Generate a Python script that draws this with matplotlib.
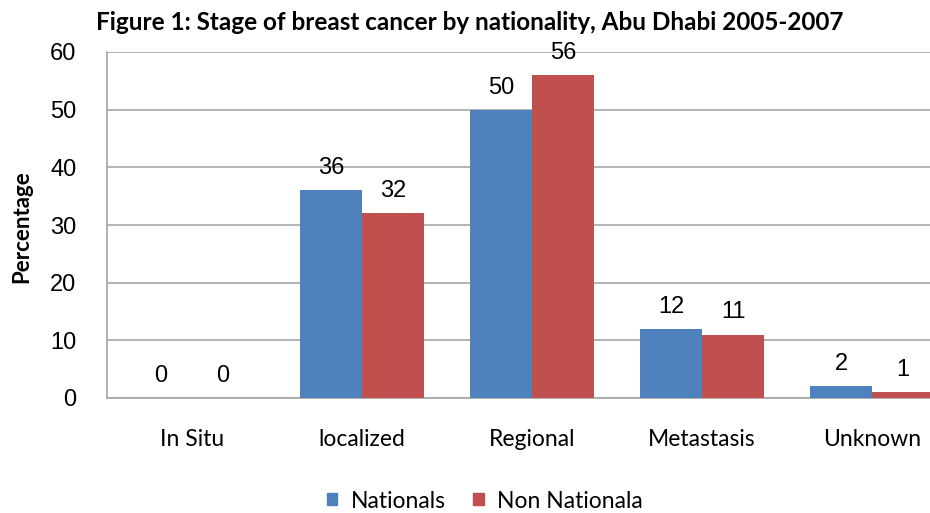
import matplotlib
matplotlib.use("Agg")
import matplotlib.pyplot as plt
import numpy as np
from matplotlib.patches import Patch

categories = ["In Situ", "localized", "Regional", "Metastasis", "Unknown"]
nationals = [0, 36, 50, 12, 2]
non_nationals = [0, 32, 56, 11, 1]
series_names = ["Nationals", "Non Nationala"]
yticks = [0, 10, 20, 30, 40, 50, 60]

blue = "#4F81BD"
red = "#C0504D"
grid_c = "#A6A6A6"

fig = plt.figure(figsize=(9.3, 5.13), dpi=100)
# axes spans 107..957 px horizontally (clipped at right edge), 52..398 px vertically
W, H = 930, 513
ax = fig.add_axes([107 / W, 1 - 398 / H, 850 / W, 346 / H])

x = np.arange(len(categories))
bw = 0.365
ax.bar(x - bw / 2, nationals, bw, color=blue, zorder=3)
ax.bar(x + bw / 2, non_nationals, bw, color=red, zorder=3)

ax.set_xlim(-0.5, len(categories) - 0.5)
ax.set_ylim(0, 60)
ax.set_yticks(yticks)
ax.yaxis.grid(True, color=grid_c, linewidth=1.2, zorder=0)
ax.set_axisbelow(True)
for s in ["top", "right"]:
    ax.spines[s].set_visible(False)
ax.spines["left"].set_color(grid_c)
ax.spines["bottom"].set_color(grid_c)
ax.spines["left"].set_linewidth(1.2)
ax.spines["bottom"].set_linewidth(1.2)
ax.tick_params(axis="y", length=0, pad=22, labelsize=17, labelcolor="black")
ax.tick_params(axis="x", length=0, pad=22, labelsize=16.5)
for lab in ax.get_yticklabels():
    lab.set_family("Liberation Sans")
ax.set_xticks(x)
ax.set_xticklabels(categories, family="Lato")

for xs, vals in [(x - bw / 2, nationals), (x + bw / 2, non_nationals)]:
    for xi, v in zip(xs, vals):
        ax.annotate(str(v), (xi, v), xytext=(0, 8), textcoords="offset points",
                    ha="center", va="bottom", fontsize=17, family="Liberation Sans")

ax.set_ylabel("Percentage", fontsize=16, fontweight="bold", family="Lato")
ax.yaxis.set_label_coords(-(107 - 22) / 850, (398 - 227) / 346)
ax.yaxis.label.set_va("center")

fig.text(470 / W, 1 - 22 / H, "Figure 1: Stage of breast cancer by nationality, Abu Dhabi 2005-2007",
         ha="center", va="center", fontsize=17.5, fontweight="bold", family="Lato")

handles = [Patch(color=blue), Patch(color=red)]
fig.legend(handles, series_names, loc="center", bbox_to_anchor=(485 / W, 1 - 501 / H),
           ncol=2, frameon=False, prop={"family": "Lato", "size": 16.5},
           handlelength=0.45, handleheight=0.45, handletextpad=0.6, columnspacing=1.2,
           borderpad=0, borderaxespad=0)

fig.savefig("out.png", dpi=100)
